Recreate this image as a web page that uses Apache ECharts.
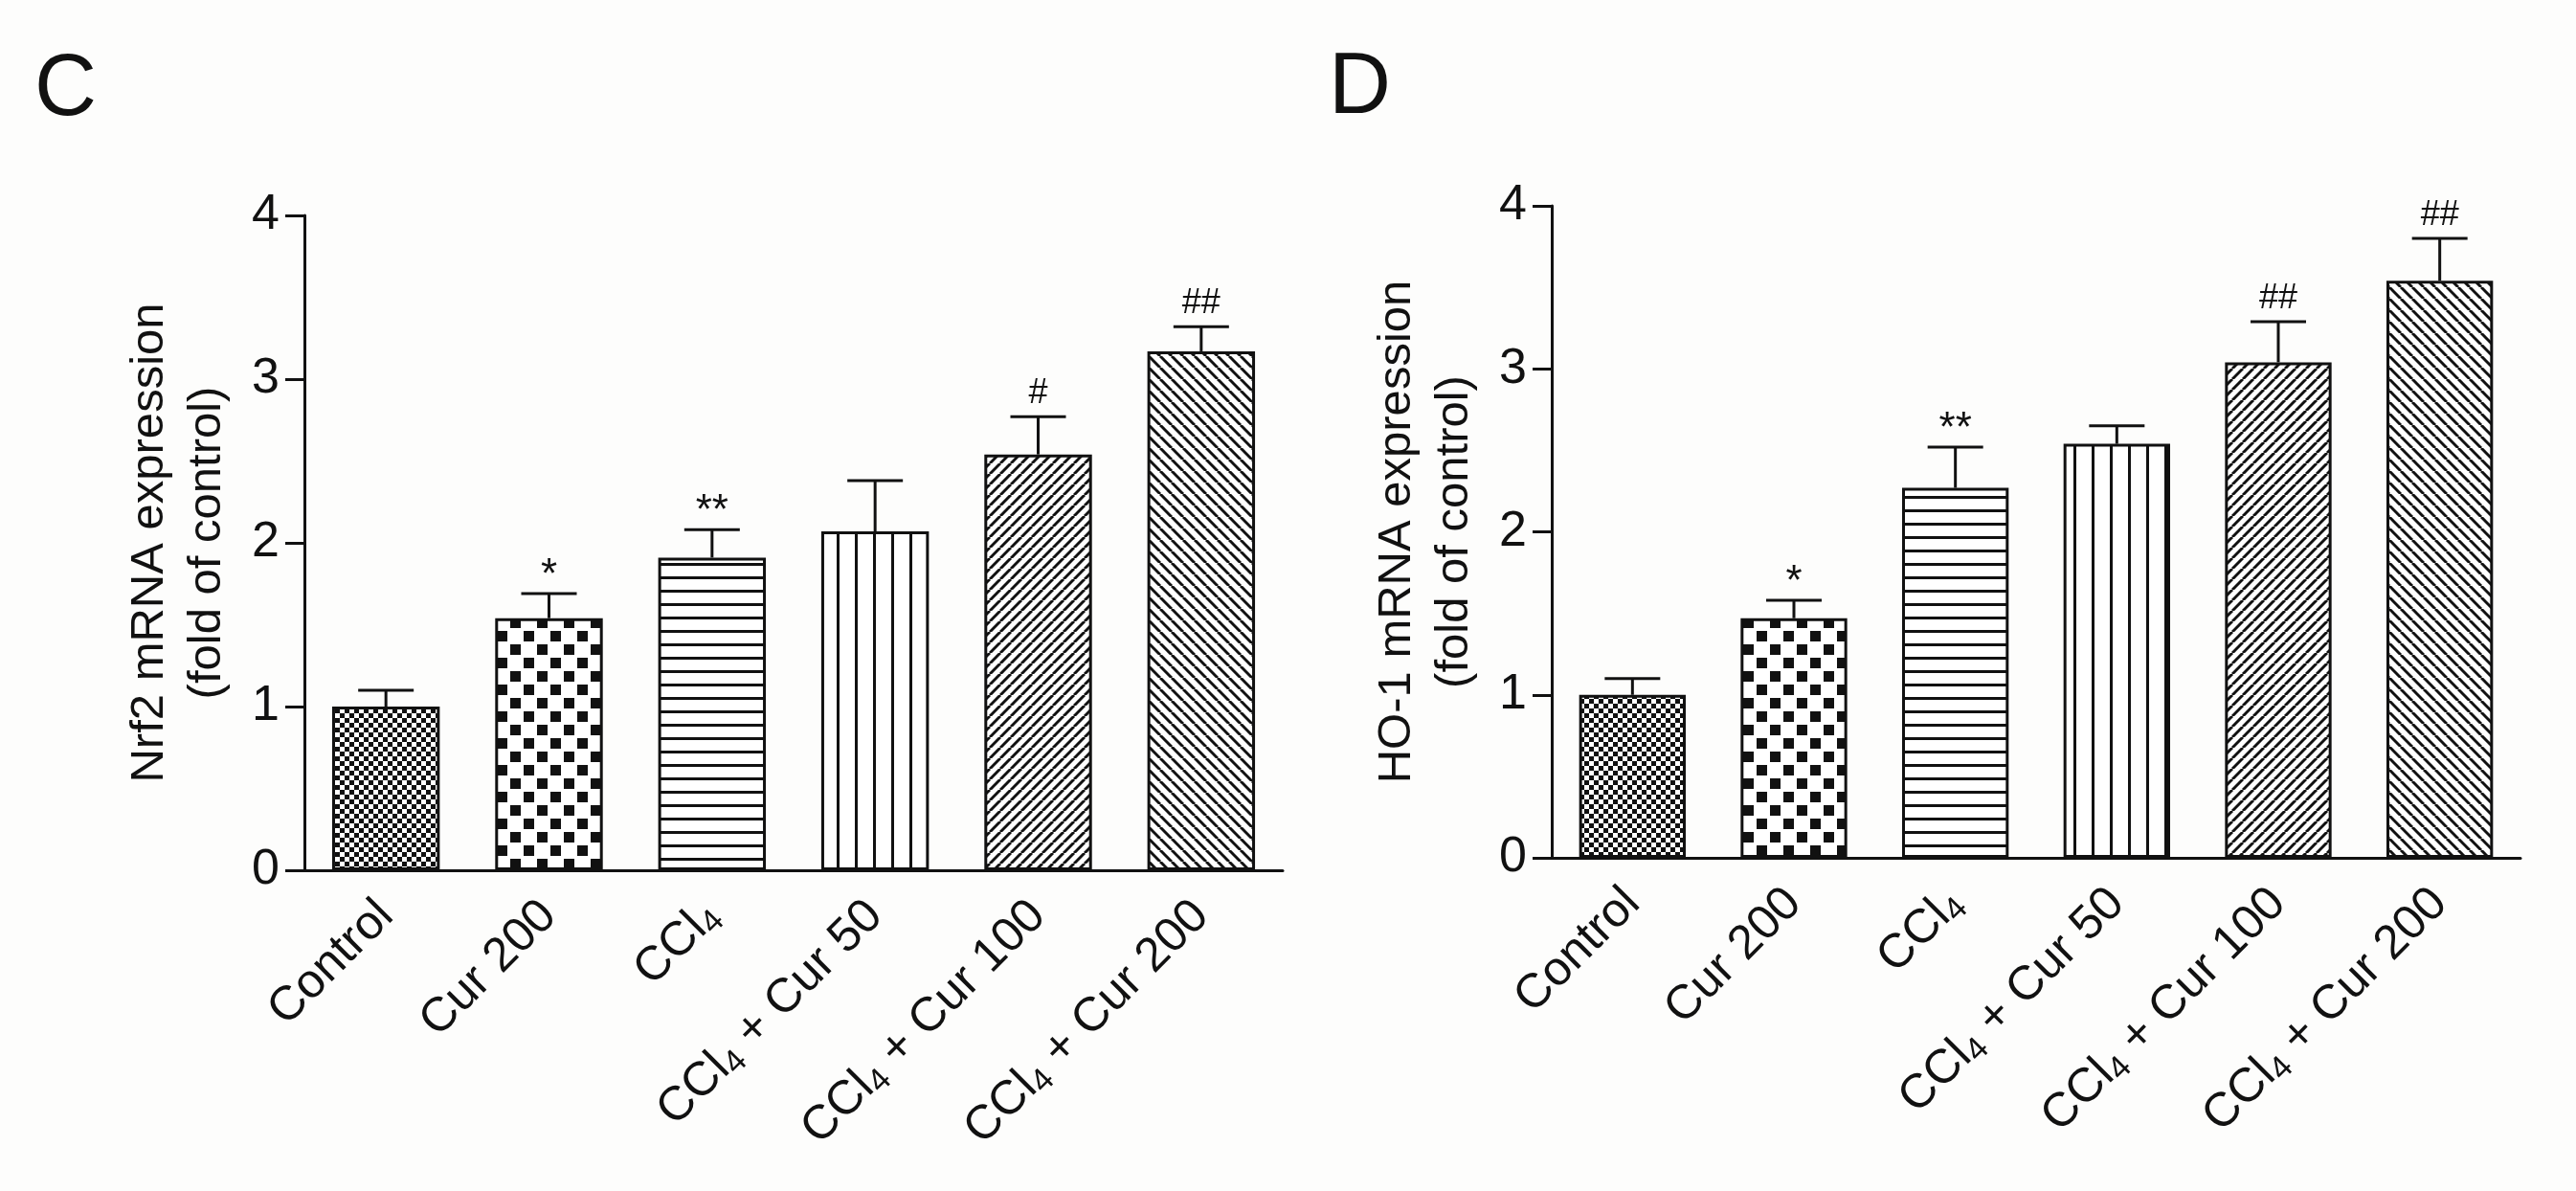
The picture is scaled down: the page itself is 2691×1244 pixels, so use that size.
<!DOCTYPE html>
<html>
<head>
<meta charset="utf-8">
<script src="https://cdn.jsdelivr.net/npm/echarts@6/dist/echarts.min.js"></script>
<style>
html,body{margin:0;padding:0;background:#fdfdfc;}
#chart{width:2691px;height:1244px;}
</style>
</head>
<body>
<div id="chart"></div>
<script>
// ---- data ----
const categories = ['Control', 'Cur 200', 'CCl4', 'CCl4 + Cur 50', 'CCl4 + Cur 100', 'CCl4 + Cur 200'];
const nrf2Mean = [1.00, 1.54, 1.91, 2.07, 2.54, 3.17];
const nrf2Err  = [0.10, 0.15, 0.17, 0.31, 0.23, 0.15];
const nrf2Marks = ['', '*', '**', '', '#', '##'];
const ho1Mean = [1.00, 1.47, 2.27, 2.54, 3.04, 3.54];
const ho1Err  = [0.10, 0.11, 0.25, 0.11, 0.25, 0.26];
const ho1Marks = ['', '*', '**', '', '##', '##'];
const yTicks = [0, 1, 2, 3, 4];
const panelLetters = ['C', 'D'];
const yTitles = ['Nrf2 mRNA expression\n(fold of control)', 'HO-1 mRNA expression\n(fold of control)'];

// ---- patterns ----
const INK = '#111';
function tile(w, h, draw) {
  const c = document.createElement('canvas');
  c.width = w; c.height = h;
  const g = c.getContext('2d');
  g.fillStyle = '#fff'; g.fillRect(0, 0, w, h);
  g.fillStyle = INK; g.strokeStyle = INK;
  draw(g, w, h);
  return { image: c, repeat: 'repeat' };
}
const patterns = [
  tile(10, 10, g => { g.fillRect(0, 0, 5, 5); g.fillRect(5, 5, 5, 5); }),
  tile(28, 28, g => { g.fillRect(1, 1, 11, 11); g.fillRect(15, 15, 11, 11); }),
  tile(14, 14, g => { g.fillRect(0, 0, 14, 3); }),
  tile(19, 19, g => { g.fillRect(0, 0, 3, 19); }),
  tile(11, 11, (g, p) => { g.lineWidth = 3; for (let k = -1; k <= 1; k++) { g.beginPath(); g.moveTo(k * p, p); g.lineTo(k * p + p, 0); g.stroke(); } }),
  tile(12, 12, (g, p) => { g.lineWidth = 3; for (let k = -1; k <= 1; k++) { g.beginPath(); g.moveTo(k * p, 0); g.lineTo(k * p + p, p); g.stroke(); } })
];

const FONT = 'Liberation Sans, Arial, sans-serif';

function labelFmt(v) { return v.replace('CCl4', 'CCl{s|4}'); }

function errorRender(marks) {
  return function (params, api) {
    const idx = api.value(0), m = api.value(1), e = api.value(2);
    const base = api.coord([idx, m]);
    const top = api.coord([idx, m + e]);
    const capHalf = 29;
    const mark = marks[params.dataIndex];
    const children = [
      { type: 'line', shape: { x1: base[0], y1: base[1], x2: top[0], y2: top[1] }, style: { stroke: INK, lineWidth: 3 } },
      { type: 'line', shape: { x1: top[0] - capHalf, y1: top[1], x2: top[0] + capHalf, y2: top[1] }, style: { stroke: INK, lineWidth: 3 } }
    ];
    if (mark) {
      const isStar = mark.indexOf('*') >= 0;
      children.push({
        type: 'text',
        style: {
          text: mark, x: top[0], y: top[1] - (isStar ? 18 : 24),
          align: 'center', verticalAlign: 'middle',
          font: (isStar ? '44px ' : '36px ') + FONT, fill: INK
        }
      });
    }
    return { type: 'group', children };
  };
}

function axisPair(i, title) {
  return {
    x: {
      type: 'category', gridIndex: i, data: categories,
      axisLine: { lineStyle: { color: INK, width: 3 } },
      axisTick: { alignWithLabel: true, length: 20, lineStyle: { color: INK, width: 3 } },
      axisLabel: {
        rotate: 45, margin: 40, interval: 0, color: INK, fontSize: 50, fontFamily: FONT, lineHeight: 56,
        formatter: labelFmt,
        rich: { s: { fontSize: 34, fontFamily: FONT, color: INK, verticalAlign: 'bottom', lineHeight: 40 } }
      }
    },
    y: {
      type: 'value', gridIndex: i, min: yTicks[0], max: yTicks[yTicks.length - 1], interval: 1,
      axisLine: { show: true, lineStyle: { color: INK, width: 3 } },
      axisTick: { show: true, length: 20, lineStyle: { color: INK, width: 3 } },
      splitLine: { show: false },
      axisLabel: { margin: 26, color: INK, fontSize: 52, fontFamily: FONT },
      name: title, nameLocation: 'middle', nameGap: 72, nameRotate: 90,
      nameTextStyle: { color: INK, fontSize: 49, fontFamily: FONT, lineHeight: 60, align: 'center' }
    }
  };
}

const a0 = axisPair(0, yTitles[0]);
const a1 = axisPair(1, yTitles[1]);

function barData(vals) {
  return vals.map((v, i) => ({ value: v, itemStyle: { color: patterns[i] } }));
}
function errData(means, errs) {
  return means.map((m, i) => [i, m, errs[i]]);
}

const chart = echarts.init(document.getElementById('chart'), null, { renderer: 'canvas' });
chart.setOption({
  backgroundColor: '#fdfdfc',
  animation: false,
  grid: [
    { left: 318, top: 225, width: 1022, height: 684, outerBoundsMode: 'none', containLabel: false },
    { left: 1621, top: 215, width: 1012, height: 681, outerBoundsMode: 'none', containLabel: false }
  ],
  xAxis: [a0.x, a1.x],
  yAxis: [a0.y, a1.y],
  graphic: [
    { type: 'text', left: 36, top: 50, style: { text: panelLetters[0], font: '90px ' + FONT, fill: INK } },
    { type: 'text', left: 1388, top: 48, style: { text: panelLetters[1], font: '90px ' + FONT, fill: INK } }
  ],
  series: [
    { type: 'bar', xAxisIndex: 0, yAxisIndex: 0, data: barData(nrf2Mean), barWidth: '66%',
      itemStyle: { borderColor: INK, borderWidth: 3 } },
    { type: 'custom', xAxisIndex: 0, yAxisIndex: 0, data: errData(nrf2Mean, nrf2Err), renderItem: errorRender(nrf2Marks), z: 5 },
    { type: 'bar', xAxisIndex: 1, yAxisIndex: 1, data: barData(ho1Mean), barWidth: '66%',
      itemStyle: { borderColor: INK, borderWidth: 3 } },
    { type: 'custom', xAxisIndex: 1, yAxisIndex: 1, data: errData(ho1Mean, ho1Err), renderItem: errorRender(ho1Marks), z: 5 }
  ]
});
</script>
</body>
</html>
